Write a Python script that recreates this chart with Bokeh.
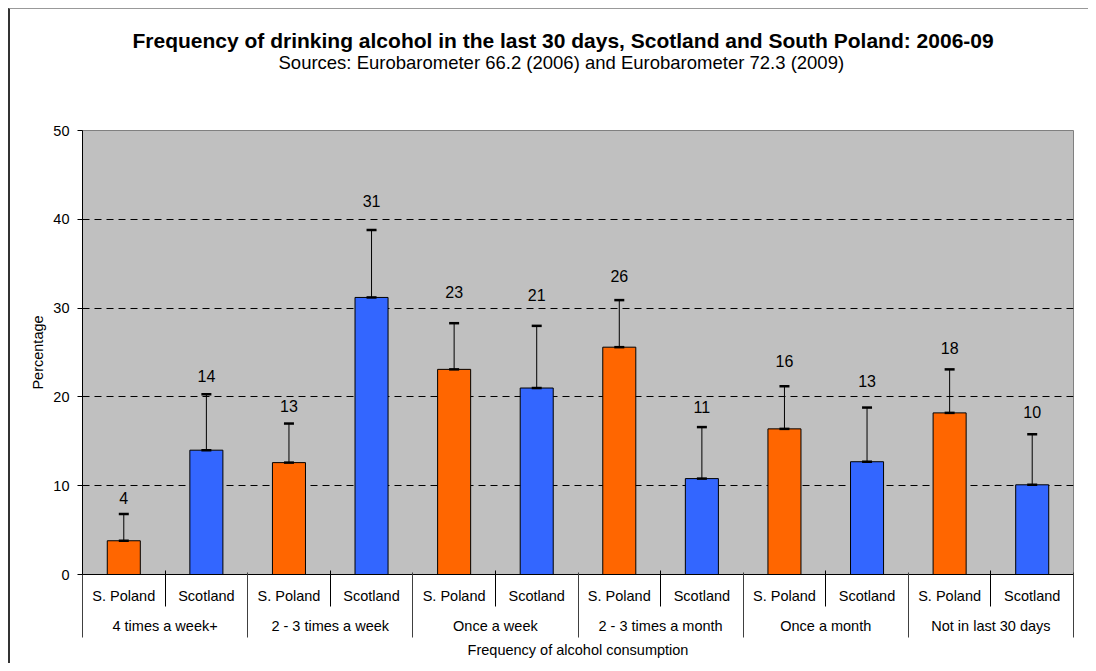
from bokeh.plotting import figure
from bokeh.models import (Range1d, LinearAxis, FixedTicker, ColumnDataSource, Whisker,
                          TeeHead, Title)
from bokeh.core.properties import value
from bokeh.embed import file_html
from bokeh.resources import INLINE

# ---- data -------------------------------------------------------------
groups = ["4 times a week+", "2 - 3 times a week", "Once a week",
          "2 - 3 times a month", "Once a month", "Not in last 30 days"]
series = ["S. Poland", "Scotland"]
poland = [3.8, 12.6, 23.1, 25.6, 16.4, 18.2]
poland_lo = [2.1, 9.2, 18.6, 20.8, 12.6, 14.2]
poland_hi = [6.8, 17.0, 28.3, 30.9, 21.2, 23.1]
scotland = [14.0, 31.2, 21.0, 10.8, 12.7, 10.1]
scotland_lo = [9.4, 24.5, 15.4, 6.8, 8.3, 6.3]
scotland_hi = [20.3, 38.8, 28.0, 16.6, 18.8, 15.8]
poland_label_y = [8.6, 19.0, 31.8, 33.6, 24.0, 25.5]
scotland_label_y = [22.3, 42.1, 31.5, 18.9, 21.8, 18.3]
colors = ["#FF6600", "#3366FF"]
y_ticks = [0, 10, 20, 30, 40, 50]

FONT = "Liberation Sans"

# ---- build interleaved table ------------------------------------------
xs, vals, los, his, cols, lab_y, names = [], [], [], [], [], [], []
for gi in range(len(groups)):
    for si, (v, lo, hi, ly) in enumerate([(poland[gi], poland_lo[gi], poland_hi[gi], poland_label_y[gi]),
                                          (scotland[gi], scotland_lo[gi], scotland_hi[gi], scotland_label_y[gi])]):
        xs.append(gi * 2 + si + 0.5)
        vals.append(v)
        los.append(lo)
        his.append(hi)
        cols.append(colors[si])
        lab_y.append(ly)
        names.append(series[si])
src = ColumnDataSource(dict(x=xs, v=vals, lo=los, hi=his, c=cols, ly=lab_y,
                            t=[str(int(round(v))) for v in vals]))
n = len(xs)

p = figure(width=1080, height=655, output_backend="svg", toolbar_location=None,
           x_range=Range1d(0, n), y_range=Range1d(0, 50),
           min_border_left=72, min_border_right=17, min_border_top=121, min_border_bottom=90,
           background_fill_color="#C0C0C0", border_fill_color="white",
           outline_line_color="#808080", outline_line_width=1)
p.styles = {"margin-left": "8px", "margin-top": "8px",
            "border-left": "2px solid #333333", "border-top": "1px solid #999999"}

# titles (spacer nearest the frame, then subtitle, then main title)
p.add_layout(Title(text=" ", text_font_size="1px", standoff=55), "above")
p.add_layout(Title(text="Sources: Eurobarometer 66.2 (2006) and Eurobarometer 72.3 (2009)",
                   align="left", offset=196, text_font=FONT, text_font_size="18.5px",
                   text_color="black", text_font_style="normal", standoff=0), "above")
p.add_layout(Title(text="Frequency of drinking alcohol in the last 30 days, Scotland and South Poland: 2006-09",
                   align="left", offset=50, text_font=FONT, text_font_size="21px",
                   text_color="black", text_font_style="bold", standoff=-5), "above")

# grid
p.xgrid.visible = False
p.ygrid.ticker = FixedTicker(ticks=y_ticks[1:])
p.ygrid.grid_line_color = "black"
p.ygrid.grid_line_dash = "7 5"
p.ygrid.grid_line_width = 1

# bars
p.vbar(x="x", top="v", bottom=0, width=0.4, fill_color="c", line_color="black",
       line_width=1, source=src)

# error bars
p.add_layout(Whisker(source=src, base="x", upper="hi", lower="lo", line_color="black",
                     line_width=1,
                     upper_head=TeeHead(size=10, line_width=2.5, line_color="black"),
                     lower_head=TeeHead(size=10, line_width=2.5, line_color="black")))
p.scatter(x="x", y="v", marker="dash", size=10, line_width=2.5, line_color="black", source=src)

# value labels
p.text(x="x", y="ly", text="t", source=src, text_align="center", text_baseline="middle",
       text_font=value(FONT), text_font_size="16px", text_color="black")

# y axis
p.yaxis.ticker = FixedTicker(ticks=y_ticks)
p.yaxis.minor_tick_line_color = None
p.yaxis.major_tick_out = 5
p.yaxis.major_tick_in = 0
p.yaxis.major_label_standoff = 8
p.yaxis.axis_label = "Percentage"
p.yaxis.axis_label_text_font = FONT
p.yaxis.axis_label_text_font_size = "14.5px"
p.yaxis.axis_label_text_font_style = "normal"
p.yaxis.axis_label_text_color = "black"
p.yaxis.axis_label_standoff = 4
p.yaxis.major_label_text_font = FONT
p.yaxis.major_label_text_font_size = "14.5px"
p.yaxis.major_label_text_color = "black"
p.yaxis.axis_line_color = "black"
p.yaxis.major_tick_line_color = "black"

# x axes (replace default)
p.xaxis.visible = False
p.below = []

sub_centers = [i + 0.5 for i in range(n)]
sub_seps = [i for i in range(1, n) if i % 2 == 1]
ax1 = LinearAxis(ticker=FixedTicker(ticks=sub_centers, minor_ticks=sub_seps),
                 major_label_overrides={c: nm for c, nm in zip(sub_centers, names)},
                 major_tick_line_color=None, major_tick_out=0, major_tick_in=0,
                 minor_tick_line_color="black", minor_tick_out=32, minor_tick_in=4,
                 major_label_standoff=-19, major_label_text_font=FONT,
                 major_label_text_font_size="14.5px", major_label_text_color="black",
                 axis_line_color="black")
p.add_layout(ax1, "below")

grp_centers = [g * 2 + 1 for g in range(len(groups))]
grp_seps = [g * 2 for g in range(len(groups) + 1)]
ax2 = LinearAxis(ticker=FixedTicker(ticks=grp_centers, minor_ticks=grp_seps),
                 major_label_overrides={float(c): g for c, g in zip(grp_centers, groups)},
                 major_tick_line_color=None, major_tick_out=0, major_tick_in=0,
                 minor_tick_line_color="#404040", minor_tick_out=31, minor_tick_in=34,
                 major_label_standoff=-20, major_label_text_font=FONT,
                 major_label_text_font_size="14.5px", major_label_text_color="black",
                 axis_line_color=None,
                 axis_label="Frequency of alcohol consumption", axis_label_text_font=FONT,
                 axis_label_text_font_size="14.5px", axis_label_text_font_style="normal",
                 axis_label_text_color="black", axis_label_standoff=5)
p.add_layout(ax2, "below")

open("out.html", "w").write(file_html(p, INLINE))
